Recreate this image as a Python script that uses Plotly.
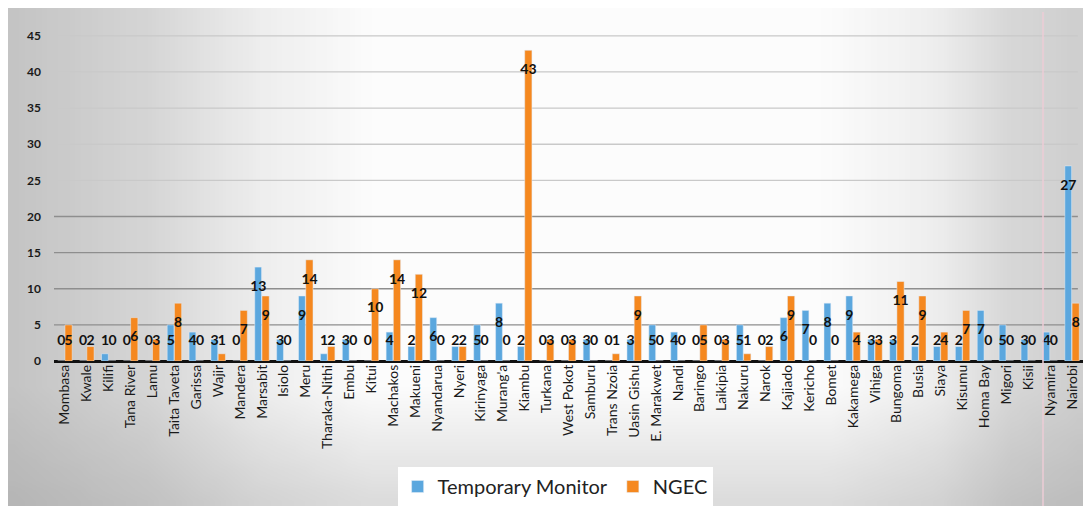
import plotly.graph_objects as go
import numpy as np
import zlib, struct, base64

counties = ["Mombasa", "Kwale", "Kilifi", "Tana River", "Lamu", "Taita Taveta", "Garissa", "Wajir",
            "Mandera", "Marsabit", "Isiolo", "Meru", "Tharaka-Nithi", "Embu", "Kitui", "Machakos",
            "Makueni", "Nyandarua", "Nyeri", "Kirinyaga", "Murang'a", "Kiambu", "Turkana", "West Pokot",
            "Samburu", "Trans Nzoia", "Uasin Gishu", "E. Marakwet", "Nandi", "Baringo", "Laikipia",
            "Nakuru", "Narok", "Kajiado", "Kericho", "Bomet", "Kakamega", "Vihiga", "Bungoma", "Busia",
            "Siaya", "Kisumu", "Homa Bay", "Migori", "Kisii", "Nyamira", "Nairobi"]

temporary_monitor = [0, 0, 1, 0, 0, 5, 4, 3, 0, 13, 3, 9, 1, 3, 0, 4, 2, 6, 2, 5, 8, 2, 0, 0,
                     3, 0, 3, 5, 4, 0, 0, 5, 0, 6, 7, 8, 9, 3, 3, 2, 2, 2, 7, 5, 3, 4, 27]
ngec = [5, 2, 0, 6, 3, 8, 0, 1, 7, 9, 0, 14, 2, 0, 10, 14, 12, 0, 2, 0, 0, 43, 3, 3,
        0, 1, 9, 0, 0, 5, 3, 1, 2, 9, 0, 0, 4, 3, 11, 9, 4, 7, 0, 0, 0, 0, 8]

y_ticks = [0, 5, 10, 15, 20, 25, 30, 35, 40, 45]

BLUE = "#5ba7de"
ORANGE = "#f5881f"
FONT = "Lato"

W, H = 1075, 498
L, R, T, B = 46, 0, 4, 145
PW, PH = W - L - R, H - T - B


# ---- background: soft photographic grey gradient (style only) ----
def make_png(w, h, pix):
    raw = b"".join(b"\x00" + bytes(row) for row in pix)
    def chunk(t, d):
        c = struct.pack(">I", len(d)) + t + d
        return c + struct.pack(">I", zlib.crc32(t + d) & 0xffffffff)
    png = b"\x89PNG\r\n\x1a\n" + chunk(b"IHDR", struct.pack(">IIBBBBB", w, h, 8, 2, 0, 0, 0))
    png += chunk(b"IDAT", zlib.compress(raw, 9)) + chunk(b"IEND", b"")
    return "data:image/png;base64," + base64.b64encode(png).decode()

gw, gh = 96, 48
hx = [0, 140, 250, 360, 820, 930, 1000, 1083]
hv = [196, 214, 238, 252, 252, 238, 216, 206]
vy = [0, 380, 430, 506]
vv = [0, 0, 14, 34]
pix = []
for j in range(gh):
    yy = (j + 0.5) / gh * H
    row = []
    for i in range(gw):
        xx = (i + 0.5) / gw * W
        v = np.interp(xx, hx, hv) - np.interp(yy, vy, vv) * (np.interp(xx, hx, hv) - 150) / 100
        v = int(max(0, min(255, v)))
        row += [v, v, v]
    pix.append(row)
bg_src = make_png(gw, gh, pix)

idx = np.arange(len(counties))
tm = np.array(temporary_monitor)
ng = np.array(ngec)

fig = go.Figure()
fig.add_trace(go.Bar(x=idx, y=tm, name="Temporary Monitor", marker_color=BLUE,
                     offset=-0.33, width=0.31, hoverinfo="skip"))
fig.add_trace(go.Bar(x=idx, y=ng, name="NGEC", marker_color=ORANGE,
                     offset=0.0, width=0.33, hoverinfo="skip"))

lab_font = dict(family=FONT, size=14, color="#111111", weight="bold")
fig.add_trace(go.Scatter(x=idx - 0.17, y=np.maximum(tm - 2.8, 2.7), mode="text",
                         text=[str(v) for v in temporary_monitor], textposition="middle center",
                         textfont=lab_font, showlegend=False, hoverinfo="skip", cliponaxis=False))
fig.add_trace(go.Scatter(x=idx + 0.17, y=np.maximum(ng - 2.8, 2.7), mode="text",
                         text=[str(v) for v in ngec], textposition="middle center",
                         textfont=lab_font, showlegend=False, hoverinfo="skip", cliponaxis=False))

shapes = []
for t in y_ticks[1:]:
    col = "#8e8e8e" if t <= 20 else "#c9c9c9"
    shapes.append(dict(type="line", xref="paper", yref="y", x0=0, x1=0.995, y0=t, y1=t,
                       line=dict(color=col, width=1.3), layer="below"))
# faint fold line in the photographed page
shapes.append(dict(type="line", xref="paper", yref="paper", x0=(1035 - L) / PW, x1=(1035 - L) / PW,
                   y0=-B / PH, y1=1.0, line=dict(color="#ecccd6", width=1.5), layer="above"))

fig.update_layout(
    width=W, height=H,
    margin=dict(l=L, r=R, t=T, b=B),
    paper_bgcolor="#d6d6d6",
    plot_bgcolor="rgba(0,0,0,0)",
    font=dict(family=FONT, color="#222222"),
    barmode="overlay",
    showlegend=True,
    images=[dict(source=bg_src, xref="paper", yref="paper", x=-L / PW, y=1 + T / PH,
                 sizex=W / PW, sizey=H / PH, sizing="stretch", layer="below",
                 xanchor="left", yanchor="top")],
    shapes=shapes,
    legend=dict(orientation="h", x=0.487, xanchor="center", y=-0.361, yanchor="middle",
                bgcolor="white", font=dict(size=20, color="#222222", family=FONT),
                traceorder="normal"),
    xaxis=dict(range=[-0.5, 46.5], tickmode="array", tickvals=list(idx), ticktext=counties,
               tickangle=-90, tickfont=dict(size=14, color="#1a1a1a"), showgrid=False,
               zeroline=False, showline=False, ticks=""),
    yaxis=dict(range=[0, 48.3], tickmode="array", tickvals=y_ticks,
               tickfont=dict(size=12, color="#1a1a1a", weight="bold"), showgrid=False,
               zeroline=True, zerolinecolor="#111111", zerolinewidth=3,
               ticklabelstandoff=12),
)

fig.write_html("out.html")
